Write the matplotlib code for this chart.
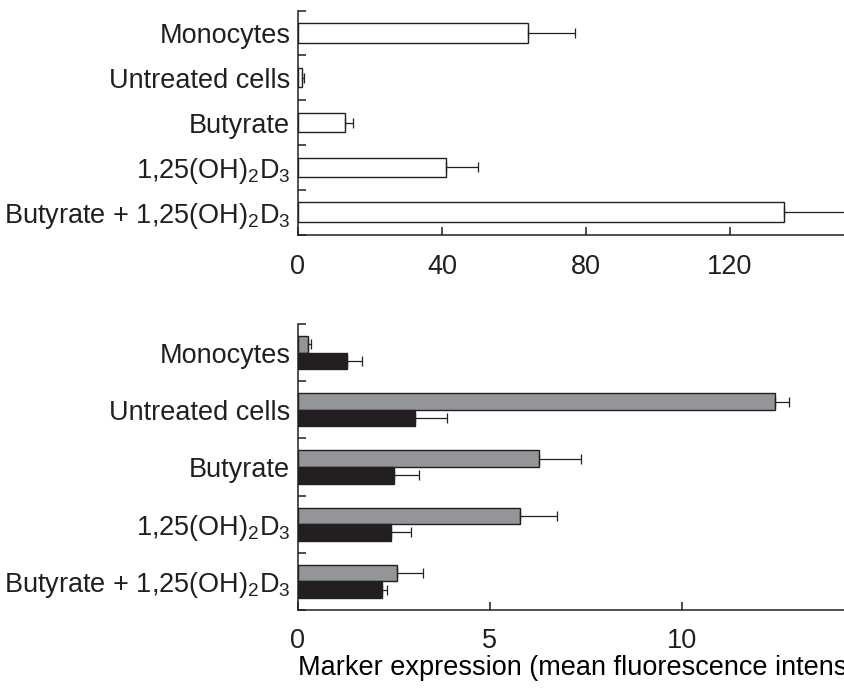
import numpy as np
import matplotlib.pyplot as plt
from matplotlib.ticker import FixedLocator

# categories, top to bottom
labels = ['Monocytes', 'Untreated cells', 'Butyrate',
          '1,25(OH)$_2$D$_3$', 'Butyrate + 1,25(OH)$_2$D$_3$']

# top panel (open bars)
top_vals = [64.0, 1.1, 13.0, 41.0, 135.0]
top_errs = [13.0, 0.7, 2.4, 9.0, 20.0]

# bottom panel: grey bars and black bars
grey_vals = [0.25, 12.42, 6.29, 5.78, 2.59]
grey_errs = [0.08, 0.36, 1.07, 0.98, 0.66]
black_vals = [1.27, 3.06, 2.51, 2.41, 2.20]
black_errs = [0.39, 0.82, 0.65, 0.54, 0.13]

top_ticks = [0, 40, 80, 120]
bottom_ticks = [0, 5, 10]
xlabel = 'Marker expression (mean fluorescence intensity)'

ink = '#231f20'
grey = '#939598'

plt.rcParams['font.family'] = ['Liberation Sans', 'DejaVu Sans']
plt.rcParams['mathtext.fontset'] = 'custom'
plt.rcParams['mathtext.rm'] = 'Liberation Sans'
plt.rcParams['mathtext.it'] = 'Liberation Sans:italic'
plt.rcParams['mathtext.bf'] = 'Liberation Sans:bold'
plt.rcParams['font.size'] = 19.5
plt.rcParams['text.color'] = ink
plt.rcParams['axes.edgecolor'] = ink
plt.rcParams['xtick.color'] = ink
plt.rcParams['ytick.color'] = ink

fig = plt.figure(figsize=(8.45, 6.88), dpi=100)
W, H = 845.0, 688.0
x0 = 298.0
ax1 = fig.add_axes([x0 / W, 1 - 234.5 / H, 1 - x0 / W, (234.5 - 10.7) / H])
ax2 = fig.add_axes([x0 / W, 1 - 610.0 / H, 1 - x0 / W, (610.0 - 324.0) / H])

pos = np.arange(len(labels))


def style_axis(ax, xmax, ticks, pad):
    ax.set_xlim(0, xmax)
    ax.set_ylim(len(labels) - 0.5, -0.5)
    for s in ['top', 'right']:
        ax.spines[s].set_visible(False)
    for s in ['left', 'bottom']:
        ax.spines[s].set_linewidth(1.1)
    ax.set_xticks(ticks)
    ax.set_yticks(pos)
    ax.set_yticklabels(labels)
    ax.yaxis.set_minor_locator(FixedLocator(np.arange(len(labels) + 1) - 0.5))
    ax.tick_params(axis='y', which='major', length=0, pad=5.5)
    ax.tick_params(axis='y', which='minor', direction='in', length=6, width=1.1)
    ax.tick_params(axis='x', direction='in', length=6, width=1.1, pad=pad)


# top panel
ax1.barh(pos, top_vals, height=0.43, color='white', edgecolor=ink, linewidth=1.0)
ax1.errorbar(top_vals, pos, xerr=[np.zeros(len(pos)), top_errs], fmt='none',
             ecolor=ink, elinewidth=0.9, capsize=3.5, capthick=0.9)
style_axis(ax1, (845 - x0) / 3.6, top_ticks, 14)

# bottom panel
h = 0.29
ax2.barh(pos - h / 2, grey_vals, height=h, color=grey, edgecolor=ink, linewidth=1.0)
ax2.barh(pos + h / 2, black_vals, height=h, color=ink, edgecolor=ink, linewidth=1.0)
ax2.errorbar(grey_vals, pos - h / 2, xerr=[np.zeros(len(pos)), grey_errs], fmt='none',
             ecolor=ink, elinewidth=0.9, capsize=3.5, capthick=0.9)
ax2.errorbar(black_vals, pos + h / 2, xerr=[np.zeros(len(pos)), black_errs], fmt='none',
             ecolor=ink, elinewidth=0.9, capsize=3.5, capthick=0.9)
style_axis(ax2, 14.25, bottom_ticks, 13)
ax2.set_xlabel(xlabel, loc='left', labelpad=1)

fig.savefig('out.png', dpi=100)
